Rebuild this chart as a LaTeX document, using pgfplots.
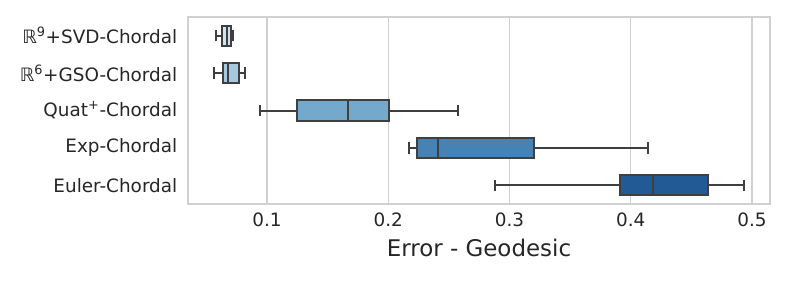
\documentclass[border=0pt]{standalone}
\usepackage{pgfplots}
\pgfplotsset{compat=1.18}
\usepgfplotslibrary{statistics}
\usepackage{fontspec}
\setmainfont{DejaVu Sans}
\definecolor{cA}{HTML}{D2E2EF}
\definecolor{cB}{HTML}{A6C9E0}
\definecolor{cC}{HTML}{75A9CB}
\definecolor{cD}{HTML}{4682B4}
\definecolor{cE}{HTML}{215A94}
\definecolor{boxgray}{HTML}{3F3F3F}
\definecolor{gridgray}{HTML}{D0D0D0}
\definecolor{textgray}{HTML}{262626}
\begin{document}
\begin{tikzpicture}[x=1pt,y=1pt]
\useasboundingbox (-141,-58.5) rectangle (450.75,153);
\begin{axis}[
  at={(0,0)}, anchor=south west,
  width=436.5pt, height=140.25pt, scale only axis,
  xmin=0.0349, xmax=0.5148, ymin=-0.5, ymax=4.5,
  xtick={0.1,0.2,0.3,0.4,0.5},
  ytick={0,1,2,3,4},
  yticklabels={Euler-Chordal, Exp-Chordal, Quat\textsuperscript{+}-Chordal, ℝ\textsuperscript{6}+GSO-Chordal, ℝ\textsuperscript{9}+SVD-Chordal},
  xmajorgrids,
  grid style={color=gridgray, line width=0.9pt},
  axis line style={gridgray, line width=0.9pt},
  major tick length=0pt,
  tick style={draw=none},
  ticklabel style={font=\fontsize{13.8}{16}\selectfont, text=textgray},
  yticklabel style={xshift=-4.5pt},
  xticklabel style={yshift=-3pt},
  /pgf/number format/assume math mode=true,
  xlabel={Error - Geodesic},
  xlabel style={font=\fontsize{17.2}{20}\selectfont, text=textgray, at={(axis description cs:0.5,0)}, anchor=center, yshift=-33pt},
  boxplot/box extend=0.54,
  boxplot/whisker extend=0.3,
  boxplot/every box/.style={line width=1.5pt},
  boxplot/every whisker/.style={line width=1.5pt},
  boxplot/every median/.style={line width=1.5pt},
]
\addplot[draw=boxgray, fill=cA, line width=1.5pt, boxplot prepared={draw position=4, lower whisker=0.0580, lower quartile=0.0627, median=0.0668, upper quartile=0.0701, upper whisker=0.0722}] coordinates {};
\addplot[draw=boxgray, fill=cB, line width=1.5pt, boxplot prepared={draw position=3, lower whisker=0.0566, lower quartile=0.0640, median=0.0676, upper quartile=0.0772, upper whisker=0.0821}] coordinates {};
\addplot[draw=boxgray, fill=cC, line width=1.5pt, boxplot prepared={draw position=2, lower whisker=0.0945, lower quartile=0.1245, median=0.1665, upper quartile=0.2006, upper whisker=0.2572}] coordinates {};
\addplot[draw=boxgray, fill=cD, line width=1.5pt, boxplot prepared={draw position=1, lower whisker=0.2173, lower quartile=0.2237, median=0.2407, upper quartile=0.3201, upper whisker=0.4141}] coordinates {};
\addplot[draw=boxgray, fill=cE, line width=1.5pt, boxplot prepared={draw position=0, lower whisker=0.2882, lower quartile=0.3910, median=0.4185, upper quartile=0.4636, upper whisker=0.4935}] coordinates {};
\end{axis}
\end{tikzpicture}
\end{document}
